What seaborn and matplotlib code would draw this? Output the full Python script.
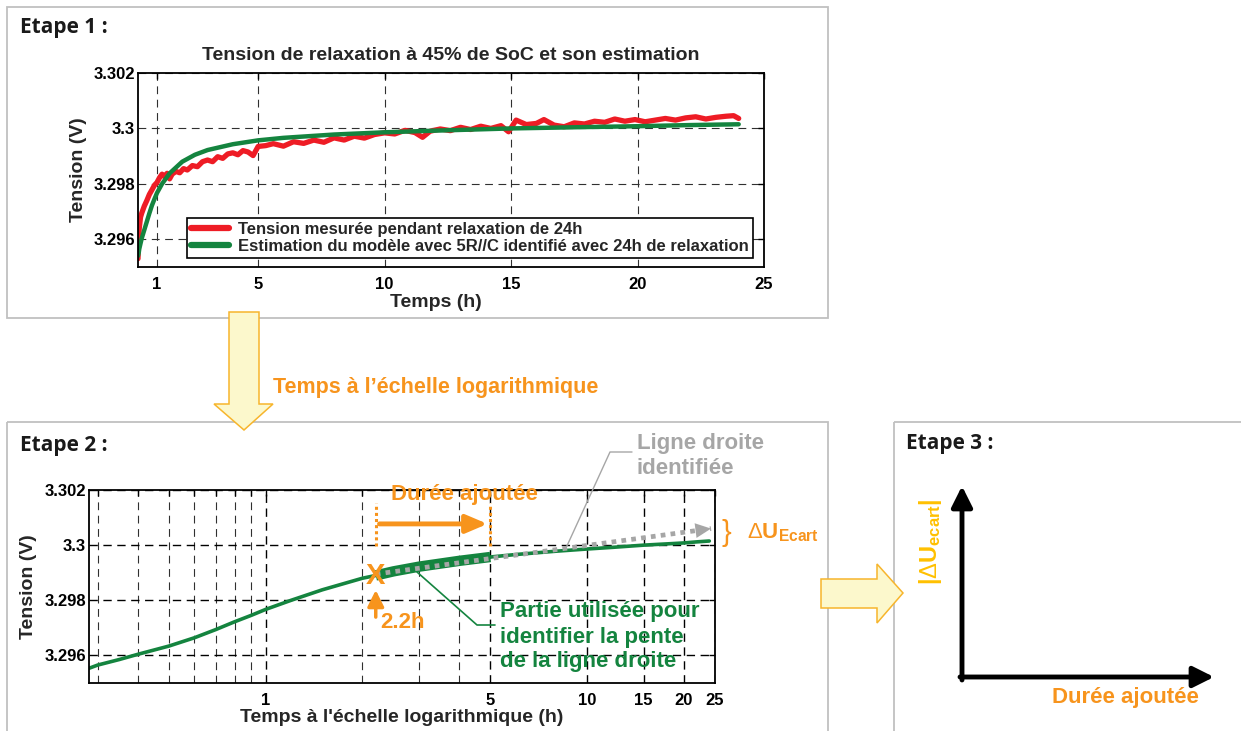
import numpy as np
import pandas as pd
import matplotlib
matplotlib.use("Agg")
import matplotlib.pyplot as plt
import seaborn as sns
from matplotlib.patches import Rectangle, Polygon
from matplotlib.ticker import FixedLocator, NullFormatter

# ---------------- data ----------------
t_mesure = [0.25, 0.27, 0.3, 0.35, 0.4, 0.5, 0.6, 0.7, 0.8, 0.9, 1.0, 1.1, 1.2, 1.3, 1.4,
            1.5, 1.6, 1.75, 1.9, 2.05, 2.2, 2.4, 2.6, 2.8, 3.0, 3.2, 3.4, 3.6, 3.8, 4.0,
            4.2, 4.4, 4.6, 4.8, 5.0, 5.3, 5.6, 6.0, 6.4, 6.8, 7.2, 7.6, 8.0, 8.4, 8.8,
            9.2, 9.6, 10.0, 10.4, 10.8, 11.2, 11.5, 11.8, 12.2, 12.6, 13.0, 13.4, 13.8,
            14.2, 14.6, 14.9, 15.2, 15.6, 16.0, 16.3, 16.7, 17.1, 17.5, 17.9, 18.3, 18.7,
            19.1, 19.5, 19.9, 20.3, 20.7, 21.1, 21.5, 21.9, 22.3, 22.7, 23.1, 23.5, 23.8, 24.0]
u_mesure = [3.29530, 3.29590, 3.29640, 3.29680, 3.29695, 3.29720, 3.29740, 3.29762, 3.29778,
            3.29795, 3.29805, 3.29822, 3.29835, 3.29826, 3.29838, 3.29818, 3.29835, 3.29845,
            3.29840, 3.29855, 3.29850, 3.29866, 3.29862, 3.29880, 3.29886, 3.29880, 3.29898,
            3.29892, 3.29908, 3.29912, 3.29905, 3.29920, 3.29915, 3.29902, 3.29935, 3.29938,
            3.29945, 3.29936, 3.29952, 3.29946, 3.29958, 3.29950, 3.29966, 3.29958, 3.29972,
            3.29965, 3.29978, 3.29984, 3.29980, 3.29993, 3.29985, 3.29968, 3.29990, 3.29998,
            3.29992, 3.30004, 3.29996, 3.30008, 3.30000, 3.30010, 3.29988, 3.30030, 3.30014,
            3.30018, 3.30032, 3.30012, 3.30006, 3.30020, 3.30016, 3.30026, 3.30022, 3.30034,
            3.30026, 3.30032, 3.30024, 3.30030, 3.30036, 3.30030, 3.30038, 3.30042, 3.30034,
            3.30040, 3.30044, 3.30046, 3.30036]

t_modele = [0.25, 0.28, 0.3, 0.35, 0.4, 0.5, 0.6, 0.7, 0.8, 0.9, 1.0, 1.2, 1.5, 2.0, 2.2,
            2.5, 3.0, 4.0, 5.0, 6.0, 8.0, 10.0, 12.0, 15.0, 18.0, 20.0, 22.0, 24.0]
u_modele = [3.29540, 3.29552, 3.29565, 3.29585, 3.29604, 3.29634, 3.29664, 3.29694, 3.29722,
            3.29745, 3.29767, 3.29800, 3.29838, 3.29880, 3.29890, 3.29905, 3.29922, 3.29943,
            3.29957, 3.29966, 3.29978, 3.29986, 3.29992, 3.30000, 3.30005, 3.30008, 3.30012,
            3.30015]

t_debut_pente = 2.2
t_fin_pente = 5.0
t_droite = [2.2, 24.3]
u_droite = [3.29895, 3.30060]

xticks_lin = [1, 5, 10, 15, 20, 25]
xticks_log = [1, 5, 10, 15, 20, 25]
xgrid_log_minor = [0.3, 0.4, 0.5, 0.6, 0.7, 0.8, 0.9, 2, 3, 4]
yticks = [3.296, 3.298, 3.3, 3.302]
ytick_labels = ["3.296", "3.298", "3.3", "3.302"]

label_mesure = "Tension mesurée pendant relaxation de 24h"
label_modele = "Estimation du modèle avec 5R//C identifié avec 24h de relaxation"

# ---------------- style ----------------
RED = "#EE1C25"
GREEN = "#14843F"
ORANGE = "#F7941D"
GOLD = "#FFC000"
GRAY = "#A6A6A6"
BOX = "#C0C0C0"

sns.set_theme(style="white")
plt.rcParams["font.family"] = ["Liberation Sans", "DejaVu Sans"]
plt.rcParams["mathtext.fontset"] = "custom"
plt.rcParams["mathtext.rm"] = "Liberation Sans"
plt.rcParams["mathtext.bf"] = "Liberation Sans:bold"
plt.rcParams["mathtext.it"] = "Liberation Sans:italic"

W, H = 1241, 731
fig = plt.figure(figsize=(W / 100, H / 100), dpi=100)
fig.patch.set_facecolor("white")


def rect(l, t, r, b):
    return [l / W, 1 - b / H, (r - l) / W, (b - t) / H]


GRID_KW = dict(color="#303030", lw=0.8, ls=(0, (7, 5)))


def style_axes(ax):
    for s in ax.spines.values():
        s.set_visible(True)
        s.set_color("black")
        s.set_linewidth(1.3)
    ax.tick_params(axis="both", which="both", direction="in", top=True, right=True,
                   length=4, width=1, colors="black", labelsize=12)
    ax.tick_params(axis="y", pad=2)
    ax.tick_params(axis="x", pad=7)
    ax.set_axisbelow(True)


df_mes = pd.DataFrame({"t": t_mesure, "u": u_mesure})
df_mod = pd.DataFrame({"t": t_modele, "u": u_modele})
df_pente = df_mod[(df_mod.t >= t_debut_pente) & (df_mod.t <= t_fin_pente)]
df_droite = pd.DataFrame({"t": t_droite, "u": u_droite})

# ---------------- Etape 1 ----------------
ax1 = fig.add_axes(rect(138, 73, 764, 267))
sns.lineplot(data=df_mes, x="t", y="u", ax=ax1, color=RED, lw=3.8, label=label_mesure, sort=False)
sns.lineplot(data=df_mod, x="t", y="u", ax=ax1, color=GREEN, lw=3.2, label=label_modele, sort=False)
ax1.set_xlim(0.25, 25)
ax1.set_ylim(3.295, 3.302)
ax1.set_xticks(xticks_lin)
ax1.set_xticklabels([str(v) for v in xticks_lin], fontweight="bold")
ax1.set_yticks(yticks)
ax1.set_yticklabels(ytick_labels, fontweight="bold")
style_axes(ax1)
ax1.grid(True, which="major", **GRID_KW)
ax1.set_title("Tension de relaxation à 45% de SoC et son estimation", fontsize=14,
              fontweight="bold", pad=9)
ax1.set_xlabel("Temps (h)", fontsize=14, fontweight="bold")
ax1.set_ylabel("Tension (V)", fontsize=14, fontweight="bold")
ax1.xaxis.set_label_coords(0.476, -0.14)
ax1.yaxis.set_label_coords(-0.082, 0.5)
leg = ax1.legend(loc="lower right", bbox_to_anchor=(0.982, 0.046), fancybox=False,
                 edgecolor="black", framealpha=1, prop={"weight": "bold", "size": 12},
                 handlelength=2.3, handletextpad=0.5, borderpad=0.25, labelspacing=0.1,
                 borderaxespad=0)
leg.get_frame().set_linewidth(1.2)
for h in leg.legend_handles:
    h.set_linewidth(4.5)

# ---------------- Etape 2 ----------------
ax2 = fig.add_axes(rect(89, 490, 715, 683))
ax2.set_xscale("log")
sns.lineplot(data=df_mod, x="t", y="u", ax=ax2, color=GREEN, lw=2.6, sort=False)
sns.lineplot(data=df_pente, x="t", y="u", ax=ax2, color=GREEN, lw=7.5, sort=False,
             solid_capstyle="butt")
sns.lineplot(data=df_droite, x="t", y="u", ax=ax2, color=GRAY, lw=3.4, sort=False,
             linestyle=(0, (1, 1.1)), dash_capstyle="butt")
ax2.set_xlim(0.282, 25)
ax2.set_ylim(3.295, 3.302)
ax2.xaxis.set_major_locator(FixedLocator(xticks_log))
ax2.xaxis.set_minor_locator(FixedLocator(xgrid_log_minor))
ax2.xaxis.set_minor_formatter(NullFormatter())
ax2.set_xticklabels([str(v) for v in xticks_log], fontweight="bold")
ax2.set_yticks(yticks)
ax2.set_yticklabels(ytick_labels, fontweight="bold")
style_axes(ax2)
ax2.grid(True, which="major", color="black", lw=1.0, ls=(0, (6, 4)))
ax2.grid(True, which="minor", axis="x", **GRID_KW)
ax2.set_xlabel("Temps à l'échelle logarithmique (h)", fontsize=14, fontweight="bold")
ax2.set_ylabel("Tension (V)", fontsize=14, fontweight="bold")
ax2.xaxis.set_label_coords(0.50, -0.135)
ax2.yaxis.set_label_coords(-0.083, 0.5)

# arrow head of the identified straight line
ax2.annotate("", xy=(t_droite[1], u_droite[1]), xytext=(19.0, 3.30044),
             arrowprops=dict(arrowstyle="-|>,head_length=0.8,head_width=0.38", fc=GRAY,
                             ec=GRAY, lw=0.01, mutation_scale=14, shrinkA=0, shrinkB=0))
# X mark at 2.2h
ax2.text(t_debut_pente, 3.29889, "X", color=ORANGE, fontsize=21, fontweight="bold",
         ha="center", va="center")
ax2.annotate("", xy=(t_debut_pente, 3.29837), xytext=(t_debut_pente, 3.29739),
             arrowprops=dict(arrowstyle="-|>,head_length=0.7,head_width=0.35", fc=ORANGE,
                             ec=ORANGE, lw=2.5, mutation_scale=14, shrinkA=0, shrinkB=0))
ax2.text(2.27, 3.29718, "2.2h", color=ORANGE, fontsize=16, fontweight="bold",
         ha="left", va="center")
# Durée ajoutée
for tv in (t_debut_pente, t_fin_pente):
    ax2.plot([tv, tv], [3.29997, 3.30153], color=ORANGE, lw=2.2, ls=(0, (1, 1)),
             clip_on=False)
ax2.annotate("", xy=(4.9, 3.30077), xytext=(2.26, 3.30077),
             arrowprops=dict(arrowstyle="-|>,head_length=0.8,head_width=0.34", fc=ORANGE,
                             ec=ORANGE, lw=3.5, mutation_scale=16, shrinkA=0, shrinkB=0))
ax2.text(4.15, 3.30183, "Durée ajoutée", color=ORANGE, fontsize=16, fontweight="bold",
         ha="center", va="center", clip_on=False, zorder=10)

# ---------------- overlay (frames, arrows, annotations) ----------------
ov = fig.add_axes([0, 0, 1, 1])
ov.set_xlim(0, W)
ov.set_ylim(H, 0)
ov.axis("off")

for (x0, y0, x1, y1) in [(7, 7, 828, 318), (7, 422, 828, 745), (894, 422, 1250, 745)]:
    ov.add_patch(Rectangle((x0, y0), x1 - x0, y1 - y0, fill=False, ec=BOX, lw=1.3))

ETAPE_KW = dict(fontsize=15, fontweight="bold", family=["Open Sans", "DejaVu Sans"],
                color="#1a1a1a", ha="left", va="center")
ov.text(20, 27, "Etape 1 :", **ETAPE_KW)
ov.text(20, 445, "Etape 2 :", **ETAPE_KW)
ov.text(906, 443, "Etape 3 :", **ETAPE_KW)

ARROW_FILL = "#FCF8CC"
ARROW_EDGE = "#F7B52C"
ov.add_patch(Polygon([(229, 312), (259, 312), (259, 404), (273, 404), (244, 430),
                      (214, 404), (229, 404)], closed=True, fc=ARROW_FILL, ec=ARROW_EDGE,
                     lw=1.1))
ov.add_patch(Polygon([(821, 579), (877, 579), (877, 564), (903, 593), (877, 623),
                      (877, 608), (821, 608)], closed=True, fc=ARROW_FILL, ec=ARROW_EDGE,
                     lw=1.1))
ov.text(273, 387, "Temps à l’échelle logarithmique", color=ORANGE, fontsize=15.5,
        fontweight="bold", ha="left", va="center")

# Ligne droite identifiée
ov.text(637, 444, "Ligne droite", color=GRAY, fontsize=16, fontweight="bold",
        ha="left", va="center")
ov.text(637, 468, "identifiée", color=GRAY, fontsize=16, fontweight="bold",
        ha="left", va="center")
ov.plot([632, 610, 566], [452, 452, 548], color=GRAY, lw=1.0)

# Partie utilisée
for yy, txt in [(612, "Partie utilisée pour"), (637, "identifier la pente"),
                (661, "de la ligne droite")]:
    ov.text(500, yy, txt, color=GREEN, fontsize=16, fontweight="bold", ha="left",
            va="center")
ov.plot([417, 477, 495], [572, 625, 625], color=GREEN, lw=1.2)

# Delta U Ecart
ov.text(726, 533, "}", color=ORANGE, fontsize=21, ha="center", va="center")
ov.text(747, 533, r"$\Delta\mathbf{U}_{\mathbf{Ecart}}$", color=ORANGE, fontsize=16,
        ha="left", va="center")

# Etape 3 axes
ov.annotate("", xy=(962, 486), xytext=(962, 680),
            arrowprops=dict(arrowstyle="-|>,head_length=0.9,head_width=0.45", fc="black",
                            ec="black", lw=3.5, mutation_scale=14, shrinkA=0, shrinkB=0))
ov.annotate("", xy=(1214, 677), xytext=(960, 677),
            arrowprops=dict(arrowstyle="-|>,head_length=0.9,head_width=0.45", fc="black",
                            ec="black", lw=3.5, mutation_scale=14, shrinkA=0, shrinkB=0))
ov.text(930, 542, r"$\mathbf{|}\Delta\mathbf{U}_{\mathbf{ecart}}\mathbf{|}$", color=GOLD,
        fontsize=17, rotation=90, ha="center", va="center")
ov.text(1125, 697, "Durée ajoutée", color=ORANGE, fontsize=16, fontweight="bold",
        ha="center", va="center")

fig.savefig("out.png", dpi=100)
